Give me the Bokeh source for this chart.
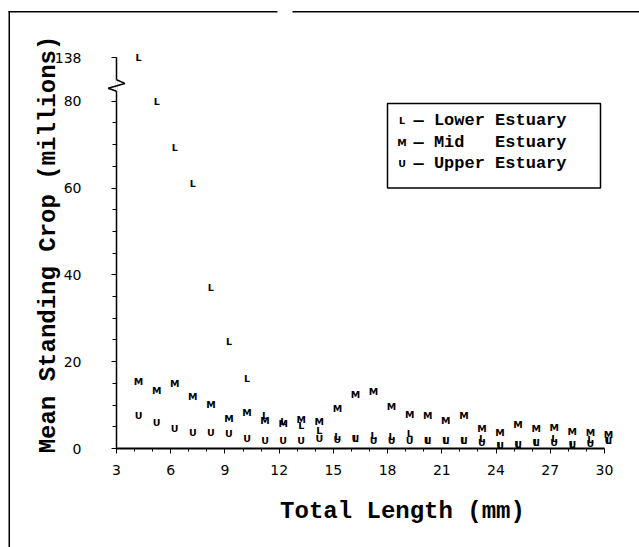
import math

from bokeh.core.properties import value
from bokeh.embed import file_html
from bokeh.models import BoxAnnotation, FixedTicker, Label, Range1d
from bokeh.plotting import figure
from bokeh.resources import INLINE

# Mean standing crop (millions) by total length (mm) for three estuary zones
lengths = list(range(4, 31))
lower = [138, 80, 69.4, 61, 37, 24.6, 16.2, 7.5, 6.3, 5.2, 4.1, 2.7, 2.2, 3.0,
         2.7, 3.5, 1.8, 1.8, 1.8, 2.2, 0.6, 0.85, 1.3, 2.2, 0.85, 2.0, 1.8]
mid = [15.4, 13.3, 15.0, 12.0, 10.1, 6.8, 8.3, 6.4, 5.7, 6.6, 6.2, 9.3, 12.4, 13.1,
       9.6, 7.9, 7.5, 6.4, 7.7, 4.5, 3.7, 5.6, 4.5, 4.8, 3.9, 3.6, 3.3]
upper = [7.7, 6.0, 4.7, 3.7, 3.7, 3.5, 2.2, 1.9, 1.9, 1.9, 2.2, 2.0, 2.2, 1.8,
         1.8, 1.8, 1.8, 1.8, 1.8, 1.5, 0.6, 0.85, 1.3, 1.3, 0.85, 1.1, 1.8]

series_marks = ["L", "M", "U"]
series_names = ["Lower Estuary", "Mid\u00a0\u00a0\u00a0Estuary", "Upper Estuary"]

x_ticks = [3, 6, 9, 12, 15, 18, 21, 24, 27, 30]
x_minor = list(range(3, 31))
y_ticks = [0, 20, 40, 60, 80]
y_minor = list(range(0, 81, 5))

# broken y axis: everything above BREAK_AT is squeezed so TOP_VALUE lands at TOP_POS
BREAK_AT = 85
TOP_VALUE = 138
TOP_POS = 90
GAP_LO, GAP_HI = 82.3, 84.95


def to_axis(v):
    if v <= BREAK_AT:
        return v
    return BREAK_AT + (v - BREAK_AT) * (TOP_POS - BREAK_AT) / (TOP_VALUE - BREAK_AT)


X0 = x_ticks[0]
W, H = 639, 547

# the frame spans the whole canvas; the axes sit inside it at x=3 / y=0
p = figure(
    width=W, height=H,
    x_range=Range1d(-3.42, 31.94), y_range=Range1d(-22.8, 103.2),
    output_backend="svg", toolbar_location=None,
    min_border=0,
)
p.xgrid.visible = False
p.ygrid.visible = False
p.outline_line_color = None
p.background_fill_color = "white"
p.border_fill_color = "white"

tick_font = "DejaVu Sans"
for ax in (p.xaxis, p.yaxis):
    ax.major_label_text_font = tick_font
    ax.major_label_text_font_size = "14px"
    ax.major_label_text_color = "black"
    ax.axis_line_color = "black"
    ax.major_tick_line_color = "black"
    ax.minor_tick_line_color = "black"
    ax.major_tick_in = 0
    ax.minor_tick_in = 0

p.xaxis.fixed_location = 0
p.xaxis.bounds = (x_ticks[0], x_ticks[-1])
p.xaxis.ticker = FixedTicker(ticks=x_ticks, minor_ticks=x_minor)
p.xaxis.axis_line_width = 2
p.xaxis.major_tick_out = 5
p.xaxis.minor_tick_out = 3
p.xaxis.major_label_standoff = 11

p.yaxis.fixed_location = X0
p.yaxis.bounds = (0, TOP_POS)
p.yaxis.ticker = FixedTicker(ticks=y_ticks + [TOP_POS], minor_ticks=y_minor)
p.yaxis.major_label_overrides = {TOP_POS: str(TOP_VALUE)}
p.yaxis.axis_line_width = 1.5
p.yaxis.major_tick_out = 5
p.yaxis.minor_tick_out = 4
p.yaxis.major_label_standoff = 30

# data marks drawn as letters
for vals, ch in zip((lower, mid, upper), series_marks):
    p.text(x=lengths, y=[to_axis(v) for v in vals], text=value(ch),
           text_font=value("DejaVu Sans"), text_font_style="bold",
           text_font_size="9.5px", text_align="center", text_baseline="middle",
           x_offset=4, text_color="black")

# axis break symbol
p.quad(left=[X0 - 0.06], right=[X0 + 0.06], bottom=[GAP_LO], top=[GAP_HI],
       fill_color="white", line_color=None, level="overlay")
gap = GAP_HI - GAP_LO
p.line(x=[X0, X0 + 0.46, X0 - 0.46, X0],
       y=[GAP_HI, GAP_HI - 0.32 * gap, GAP_LO + 0.26 * gap, GAP_LO],
       line_color="black", line_width=1.5, level="overlay")

title_font = "Liberation Mono"
p.add_layout(Label(x=402, y=H - 511, x_units="screen", y_units="screen",
                   text="Total Length (mm)", text_font=title_font,
                   text_font_style="bold", text_font_size="24px", text_color="black",
                   text_align="center", text_baseline="middle"))
p.add_layout(Label(x=48, y=H - 244, x_units="screen", y_units="screen",
                   text="Mean Standing Crop (millions)", text_font=title_font,
                   text_font_style="bold", text_font_size="24px", text_color="black",
                   angle=math.pi / 2, text_align="center", text_baseline="middle"))

# legend
p.add_layout(BoxAnnotation(left=387, right=600, top=103, bottom=187.5,
                           left_units="canvas", right_units="canvas",
                           top_units="canvas", bottom_units="canvas",
                           fill_color=None, fill_alpha=0,
                           line_color="black", line_alpha=1, line_width=1.5))
for i, (ch, name) in enumerate(zip(series_marks, series_names)):
    row_y = H - (120 + 21.5 * i)
    p.add_layout(Label(x=401.5, y=row_y, x_units="screen", y_units="screen",
                       text=ch, text_font="DejaVu Sans", text_font_style="bold",
                       text_font_size="9.5px", text_color="black", text_align="center",
                       text_baseline="middle"))
    p.add_layout(Label(x=413, y=row_y, x_units="screen", y_units="screen",
                       text="\u2014 " + name, text_font=title_font,
                       text_font_style="bold", text_font_size="17px", text_color="black",
                       text_align="left", text_baseline="middle"))

# page border rules
for left, right, top, bottom in ((8, 277, 10.5, 12), (292, 639, 10.5, 12), (8, 9.5, 10.5, 547)):
    p.add_layout(BoxAnnotation(left=left, right=right, top=top, bottom=bottom,
                               left_units="canvas", right_units="canvas",
                               top_units="canvas", bottom_units="canvas",
                               fill_color="black", fill_alpha=1,
                               line_color=None))

open("out.html", "w").write(file_html(p, INLINE))
